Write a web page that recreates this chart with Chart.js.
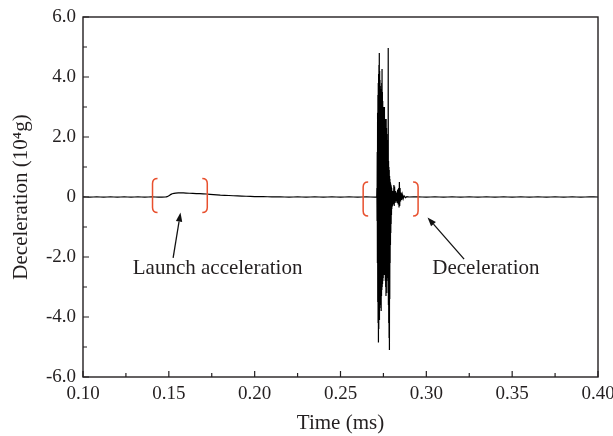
<!DOCTYPE html>
<html>
<head>
<meta charset="utf-8">
<script src="https://cdn.jsdelivr.net/npm/chart.js@4.4.1/dist/chart.umd.min.js"></script>
<style>
	html, body { margin: 0; padding: 0; background: #fff; }
	#wrap { width: 613px; height: 436px; }
</style>
</head>
<body>
<div id="wrap"><canvas id="chart"></canvas></div>
<script>
// axis ticks
const xTicks = [0.10, 0.15, 0.20, 0.25, 0.30, 0.35, 0.40];
const xTickLabels = ['0.10', '0.15', '0.20', '0.25', '0.30', '0.35', '0.40'];
const xMinorTicks = [0.125, 0.175, 0.225, 0.275, 0.325, 0.375];
const yTicks = [-6, -4, -2, 0, 2, 4, 6];
const yTickLabels = ['-6.0', '-4.0', '-2.0', '0', '2.0', '4.0', '6.0'];
const yMinorTicks = [-5, -3, -1, 1, 3, 5];

// signal (time in ms, deceleration in 10^4 g)
const preT = [0.100, 0.104, 0.108, 0.112, 0.116, 0.120, 0.124, 0.128, 0.132, 0.136, 0.140, 0.144, 0.148];
const preV = [0.005, -0.005, 0.005, -0.005, 0.005, -0.005, 0.005, -0.005, 0.005, -0.005, 0.005, -0.005, 0.0];

const launchT = [0.149, 0.150, 0.151, 0.152, 0.154, 0.157, 0.160, 0.164, 0.168, 0.172, 0.176, 0.180, 0.185, 0.190, 0.195, 0.200];
const launchV = [0.01, 0.04, 0.08, 0.11, 0.13, 0.14, 0.13, 0.12, 0.11, 0.10, 0.08, 0.06, 0.05, 0.035, 0.025, 0.015];

const midT = [0.205, 0.210, 0.215, 0.220, 0.225, 0.230, 0.235, 0.240, 0.245, 0.250, 0.255, 0.260, 0.265, 0.270, 0.2711];
const midV = [0.01, 0.005, 0.005, -0.005, 0.005, -0.005, 0.005, -0.005, 0.005, -0.005, 0.005, -0.005, 0.005, -0.005, 0.0];

const burstT = [
	0.2712, 0.2713, 0.2714, 0.2715, 0.2716, 0.2717, 0.2718, 0.2719, 0.2720, 0.2721,
	0.2722, 0.2723, 0.2724, 0.2725, 0.2726, 0.2727, 0.2728, 0.2729, 0.2730, 0.2731,
	0.2732, 0.2733, 0.2734, 0.2735, 0.2736, 0.2737, 0.2738, 0.2739, 0.2740, 0.2741,
	0.2742, 0.2743, 0.2744, 0.2745, 0.2746, 0.2747, 0.2748, 0.2749, 0.2750, 0.2751,
	0.2752, 0.2753, 0.2754, 0.2755, 0.2756, 0.2757, 0.2758, 0.2759, 0.2760, 0.2761,
	0.2762, 0.2763, 0.2764, 0.2765, 0.2766, 0.2767, 0.2768, 0.2769, 0.2770, 0.2771,
	0.2772, 0.2773, 0.2774, 0.2775, 0.2776, 0.2777, 0.2778, 0.2779, 0.2780, 0.2781,
	0.2782, 0.2783, 0.2784, 0.2785, 0.2786, 0.2787, 0.2788, 0.2789, 0.2790, 0.2791,
	0.2792, 0.2793, 0.2794, 0.2795, 0.2796, 0.2797, 0.2798, 0.2799, 0.2800
];
const burstV = [
	0.3, -0.8, 1.5, -2.2, 2.8, -3.5, 3.4, -4.2, 3.8, -4.85,
	4.1, -4.4, 4.4, -4.0, 4.8, -4.1, 4.2, -3.7, 3.9, -3.6,
	3.7, -3.4, 3.6, -3.5, 3.5, -3.8, 3.4, -3.3, 3.8, -3.1,
	4.27, -3.0, 3.5, -2.9, 3.2, -2.8, 3.0, -2.7, 2.9, -2.6,
	3.0, -2.5, 2.8, -2.6, 3.0, -2.4, 2.6, -2.5, 2.4, -2.8,
	2.5, -3.0, 2.6, -3.3, 2.6, -3.2, 2.3, -2.8, 2.1, -2.5,
	1.9, -2.4, 1.7, -2.7, 1.5, -3.2, 4.97, -3.6, 1.2, -4.2,
	1.0, -4.7, 0.9, -5.1, 0.7, -3.4, 0.6, -2.2, 0.5, -1.6,
	0.45, -1.2, 0.4, -0.9, 0.35, -0.6, 0.3, -0.4, 0.2
];

const tailT = [
	0.2802, 0.2805, 0.2808, 0.2811, 0.2813, 0.2815, 0.2818, 0.2821, 0.2824, 0.2827,
	0.2830, 0.2833, 0.2836, 0.2839, 0.2841, 0.2843, 0.2845, 0.2847, 0.2850, 0.2853,
	0.2856, 0.2860, 0.2865, 0.2870, 0.2878, 0.2886
];
const tailV = [
	-0.3, 0.2, -0.25, 0.4, -0.3, 0.35, -0.2, 0.2, -0.15, 0.15,
	-0.2, 0.25, -0.25, 0.3, -0.35, 0.5, -0.3, 0.3, -0.15, 0.15,
	-0.1, 0.08, -0.06, 0.04, -0.02, 0.01
];

const endT = [0.290, 0.295, 0.300, 0.305, 0.310, 0.315, 0.320, 0.325, 0.330, 0.335, 0.340, 0.345,
	0.350, 0.355, 0.360, 0.365, 0.370, 0.375, 0.380, 0.385, 0.390, 0.395, 0.400];
const endV = [0.0, 0.005, -0.005, 0.005, -0.005, 0.005, -0.005, 0.005, -0.005, 0.005, -0.005, 0.005,
	-0.005, 0.005, -0.005, 0.005, -0.005, 0.005, -0.005, 0.005, -0.005, 0.005, 0.0];

// annotations (data units)
const brackets = [
	{ left: 0.1405, right: 0.1724, top: 0.62, bottom: -0.52 },
	{ left: 0.2632, right: 0.2952, top: 0.50, bottom: -0.63 },
];
const notes = [
	{ text: 'Launch acceleration', x: 0.1784, y: -2.37, tail: [0.1525, -2.03], tip: [0.1568, -0.52] },
	{ text: 'Deceleration', x: 0.3347, y: -2.37, tail: [0.3220, -2.07], tip: [0.3007, -0.68] },
];

const fontFamily = '"Liberation Serif", "Times New Roman", serif';
const textColor = '#231f20';
const bracketColor = '#e8502e';

function toPoints(times, values) {
	return times.map((t, i) => ({ x: t, y: values[i] }));
}

const points = [
	...toPoints(preT, preV),
	...toPoints(launchT, launchV),
	...toPoints(midT, midV),
	...toPoints(burstT, burstV),
	...toPoints(tailT, tailV),
	...toPoints(endT, endV),
];

const framePlugin = {
	id: 'frame',
	afterDatasetsDraw(chart) {
		const { ctx, chartArea: area, scales } = chart;
		const xs = scales.x;
		const ys = scales.y;

		ctx.save();
		ctx.strokeStyle = '#231f20';
		ctx.lineWidth = 1.4;
		ctx.strokeRect(area.left, area.top, area.right - area.left, area.bottom - area.top);

		// inward ticks on bottom and left
		ctx.lineWidth = 1.2;
		ctx.beginPath();
		xTicks.forEach((v) => {
			const px = xs.getPixelForValue(v);
			ctx.moveTo(px, area.bottom);
			ctx.lineTo(px, area.bottom - 6);
		});
		xMinorTicks.forEach((v) => {
			const px = xs.getPixelForValue(v);
			ctx.moveTo(px, area.bottom);
			ctx.lineTo(px, area.bottom - 4);
		});
		yTicks.forEach((v) => {
			const py = ys.getPixelForValue(v);
			ctx.moveTo(area.left, py);
			ctx.lineTo(area.left + 6, py);
		});
		yMinorTicks.forEach((v) => {
			const py = ys.getPixelForValue(v);
			ctx.moveTo(area.left, py);
			ctx.lineTo(area.left + 4, py);
		});
		ctx.stroke();

		// red brackets
		ctx.strokeStyle = bracketColor;
		ctx.lineWidth = 1.5;
		brackets.forEach((b) => {
			const top = ys.getPixelForValue(b.top);
			const bottom = ys.getPixelForValue(b.bottom);
			[[b.left, 1], [b.right, -1]].forEach(([v, dir]) => {
				const px = xs.getPixelForValue(v);
				const hook = 5;
				ctx.beginPath();
				ctx.moveTo(px + dir * hook, top);
				ctx.quadraticCurveTo(px, top, px, top + hook);
				ctx.lineTo(px, bottom - hook);
				ctx.quadraticCurveTo(px, bottom, px + dir * hook, bottom);
				ctx.stroke();
			});
		});

		// arrows and labels
		ctx.strokeStyle = '#111';
		ctx.fillStyle = '#111';
		ctx.lineWidth = 1.3;
		notes.forEach((n) => {
			const x0 = xs.getPixelForValue(n.tail[0]);
			const y0 = ys.getPixelForValue(n.tail[1]);
			const x1 = xs.getPixelForValue(n.tip[0]);
			const y1 = ys.getPixelForValue(n.tip[1]);
			const ang = Math.atan2(y1 - y0, x1 - x0);
			const len = 9;
			const half = 3.2;
			const bx = x1 - len * Math.cos(ang);
			const by = y1 - len * Math.sin(ang);
			ctx.beginPath();
			ctx.moveTo(x0, y0);
			ctx.lineTo(bx, by);
			ctx.stroke();
			ctx.beginPath();
			ctx.moveTo(x1, y1);
			ctx.lineTo(bx + half * Math.sin(ang), by - half * Math.cos(ang));
			ctx.lineTo(bx - half * Math.sin(ang), by + half * Math.cos(ang));
			ctx.closePath();
			ctx.fill();

			ctx.fillStyle = textColor;
			ctx.font = '21px ' + fontFamily;
			ctx.textAlign = 'center';
			ctx.textBaseline = 'middle';
			ctx.fillText(n.text, xs.getPixelForValue(n.x), ys.getPixelForValue(n.y));
			ctx.fillStyle = '#111';
		});
		ctx.restore();
	},
};

new Chart(document.getElementById('chart'), {
	type: 'line',
	data: {
		datasets: [
			{
				data: points,
				borderColor: '#000',
				borderWidth: 1.2,
				pointRadius: 0,
				// tiny tension keeps Chart.js off its per-pixel fast path so the burst fills solid
				tension: 0.001,
				fill: false,
			},
		],
	},
	options: {
		responsive: true,
		maintainAspectRatio: false,
		animation: false,
		layout: { padding: { top: 17, right: 0, left: 0, bottom: 0 } },
		plugins: {
			legend: { display: false },
			tooltip: { enabled: false },
		},
		scales: {
			x: {
				type: 'linear',
				min: 0.10,
				max: 0.40,
				grid: { display: false, drawTicks: false },
				border: { display: false },
				afterBuildTicks: (scale) => {
					scale.ticks = xTicks.map((v) => ({ value: v }));
				},
				afterFit: (scale) => {
					scale.height = 59;
					scale.paddingLeft = 0;
					scale.paddingRight = 0;
				},
				ticks: {
					padding: 6,
					color: textColor,
					font: { family: fontFamily, size: 19 },
					maxRotation: 0,
					callback: (value, index) => xTickLabels[index],
				},
				title: {
					display: true,
					text: 'Time (ms)',
					color: textColor,
					font: { family: fontFamily, size: 21 },
					padding: { top: 0, bottom: 0 },
				},
			},
			y: {
				min: -6,
				max: 6,
				grid: { display: false, drawTicks: false },
				border: { display: false },
				afterBuildTicks: (scale) => {
					scale.ticks = yTicks.map((v) => ({ value: v }));
				},
				afterFit: (scale) => {
					scale.width = 83;
					scale.paddingTop = 0;
					scale.paddingBottom = 0;
				},
				ticks: {
					padding: 7,
					color: textColor,
					font: { family: fontFamily, size: 19 },
					callback: (value, index) => yTickLabels[index],
				},
				title: {
					display: true,
					text: 'Deceleration (10⁴g)',
					color: textColor,
					font: { family: fontFamily, size: 21 },
					padding: { top: 9, bottom: 0 },
				},
			},
			// empty right axis, only reserves the margin right of the frame
			yRight: {
				position: 'right',
				min: -6,
				max: 6,
				grid: { display: false, drawTicks: false },
				border: { display: false },
				ticks: { display: false },
				afterFit: (scale) => {
					scale.width = 15;
					scale.paddingTop = 0;
					scale.paddingBottom = 0;
				},
			},
		},
	},
	plugins: [framePlugin],
});
</script>
</body>
</html>
